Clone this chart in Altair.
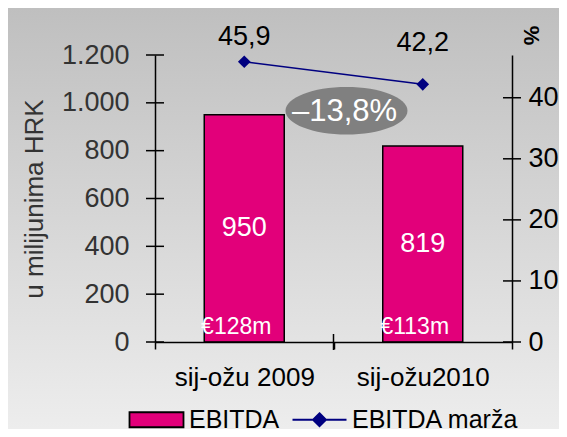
import altair as alt
import pandas as pd

categories = ["sij-ožu 2009", "sij-ožu2010"]
ebitda = [950, 819]
margin = [45.9, 42.2]
euro_labels = ["€128m", "€113m"]
change_label = "–13,8%"
left_ticks = [0, 200, 400, 600, 800, 1000, 1200]
right_ticks = [0, 10, 20, 30, 40]
series = ["EBITDA", "EBITDA marža"]

F = "Liberation Sans"
MAGENTA = "#E2007A"
NAVY = "#000080"
W, H = 357, 287

df = pd.DataFrame({"cat": categories, "ebitda": ebitda, "margin": margin, "euro": euro_labels})
ann = pd.DataFrame({"cat": [categories[0]], "y": [ebitda[0]], "label": [change_label]})

xscale = alt.Scale(domain=categories, paddingInner=0, paddingOuter=0)
xaxis = alt.Axis(title=None, domainColor="black", domainWidth=1.5, tickColor="black",
                 tickWidth=1.5, tickSize=7, tickBand="extent", labelFontSize=26,
                 labelColor="black", labelFont=F, labelPadding=15, labelAngle=0, grid=False,
                 zindex=2)
left_scale = alt.Scale(domain=[0, 1200], nice=False)
left_axis = alt.Axis(title="u milijunima HRK", values=left_ticks, ticks=False,
                     domainColor="black", domainWidth=1.5, labelFontSize=27, labelColor="#333333",
                     labelFont=F, labelPadding=26,
                     labelExpr="replace(format(datum.value, ','), ',', '.')",
                     titleFont=F, titleFontSize=26, titleFontWeight="normal", titleColor="#333333",
                     titlePadding=14, grid=False, zindex=2)
right_scale = alt.Scale(domain=[0, 47], nice=False)
right_axis = alt.Axis(orient="right", title="%", values=right_ticks, ticks=False,
                      domainColor="black", domainWidth=1.5, labelFontSize=27, labelColor="black",
                      labelFont=F, labelPadding=16, titleFont=F, titleFontSize=22,
                      titleFontWeight="bold", titleColor="black", titleAngle=90, titleX=18,
                      titleY=-20, titleAlign="center", titleBaseline="middle", grid=False,
                      zindex=2)


def xe(**kw):
    return alt.X("cat:N", scale=xscale, axis=xaxis, sort=categories, **kw)


def yl(field):
    return alt.Y(field, scale=left_scale, axis=left_axis)


def yr(field):
    return alt.Y(field, scale=right_scale, axis=right_axis)


rect_path = "M-3.6,-1H3.6V1H-3.6Z"
line_path = "M-3.6,0H3.6M0,-0.87L0.87,0L0,0.87L-0.87,0Z"
leg = alt.Legend(orient="none", legendX=-11, legendY=352, direction="horizontal", columns=2,
                 title=None, symbolSize=225, symbolStrokeWidth=1.8, labelFontSize=25,
                 labelFont=F, labelColor="black", labelOffset=20, columnPadding=8,
                 labelLimit=400)

helper = alt.Chart(pd.DataFrame({"series": series})).mark_point(filled=True, opacity=1).encode(
    x=alt.value(100), y=alt.value(100),
    fill=alt.Fill("series:N", scale=alt.Scale(domain=series, range=[MAGENTA, NAVY]), legend=leg),
    stroke=alt.Stroke("series:N", scale=alt.Scale(domain=series, range=["black", NAVY]), legend=leg),
    shape=alt.Shape("series:N", scale=alt.Scale(domain=series, range=[rect_path, line_path]), legend=leg),
)

grad = alt.LinearGradient(gradient="linear", x1=0, y1=0, x2=0, y2=1,
                          stops=[alt.GradientStop(offset=0, color="#bfbfbf"),
                                 alt.GradientStop(offset=1, color="#ededed")])
bg = alt.Chart(pd.DataFrame({"a": [0]})).mark_rect(fill=grad).encode(
    x=alt.value(-147), x2=alt.value(404), y=alt.value(-47), y2=alt.value(374))

bars = alt.Chart(df).mark_bar(size=80, fill=MAGENTA, stroke="black", strokeWidth=1.5).encode(
    x=xe(), y=yl("ebitda:Q"))
bar_lbl = alt.Chart(df).transform_calculate(half="datum.ebitda/2").mark_text(
    color="white", fontSize=27, font=F, baseline="middle").encode(
    x=xe(), y=yl("half:Q"), text="ebitda:Q")
euro_lbl = alt.Chart(df).transform_calculate(zero="0").mark_text(
    color="white", fontSize=23, font=F, baseline="middle", dx=-8, dy=-15).encode(
    x=xe(), y=yl("zero:Q"), text="euro:N")
lticks = alt.Chart(pd.DataFrame({"v": left_ticks})).mark_tick(
    orient="horizontal", size=18, thickness=1.5, color="black", opacity=1).encode(
    x=alt.value(0), y=yl("v:Q"))
ell_path = "M-0.787,-0.066A1,0.39,0,1,0,1.213,-0.066A1,0.39,0,1,0,-0.787,-0.066Z"
ellipse = alt.Chart(ann).mark_point(shape=ell_path, size=14884, filled=True, color="#808080",
                                    opacity=1, strokeWidth=0).encode(
    x=xe(bandPosition=1), y=yl("y:Q"))
ell_txt = alt.Chart(ann).mark_text(color="white", fontSize=31, font=F, baseline="middle",
                                   dx=11, dy=-3).encode(
    x=xe(bandPosition=1), y=yl("y:Q"), text="label:N")

left_group = alt.layer(bars, bar_lbl, euro_lbl, lticks, ellipse, ell_txt)

line = alt.Chart(df).mark_line(color=NAVY, strokeWidth=1.5).encode(x=xe(), y=yr("margin:Q"))
pts = alt.Chart(df).mark_point(shape="diamond", filled=True, color=NAVY, size=160, opacity=1).encode(
    x=xe(), y=yr("margin:Q"))
mfmt = "replace(format(datum.margin, '.1f'), '.', ',')"
mlbl1 = alt.Chart(df).transform_filter(alt.datum.cat == categories[0]).transform_calculate(
    lab=mfmt).mark_text(color="black", fontSize=27, font=F, baseline="middle", dy=-25).encode(
    x=xe(), y=yr("margin:Q"), text="lab:N")
mlbl2 = alt.Chart(df).transform_filter(alt.datum.cat == categories[1]).transform_calculate(
    lab=mfmt).mark_text(color="black", fontSize=27, font=F, baseline="middle", dy=-41).encode(
    x=xe(), y=yr("margin:Q"), text="lab:N")
rticks = alt.Chart(pd.DataFrame({"v": right_ticks})).mark_tick(
    orient="horizontal", size=18, thickness=1.5, color="black", opacity=1).encode(
    x=alt.value(W), y=yr("v:Q"))
right_group = alt.layer(line, pts, mlbl1, mlbl2, rticks)

midtick = alt.Chart(df.iloc[:1]).mark_tick(orient="vertical", size=16, thickness=1.5,
                                           color="black", opacity=1).encode(
    x=xe(bandPosition=1), y=alt.value(H))

chart = alt.layer(helper, bg, left_group, right_group, midtick).resolve_scale(
    y="independent").properties(width=W, height=H, padding=0, background="#ffffff"
).configure_view(strokeWidth=0)

chart.save("out.html", embed_options={"renderer": "svg", "actions": False})
